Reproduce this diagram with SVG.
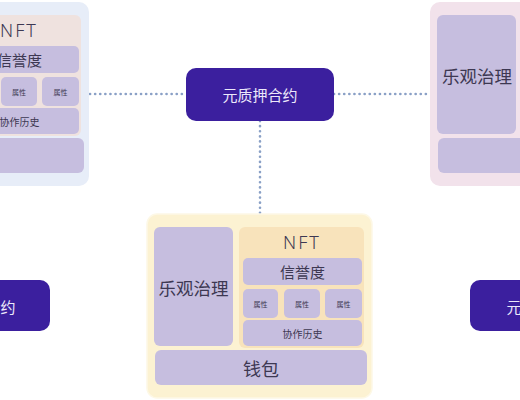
<svg xmlns="http://www.w3.org/2000/svg" width="520" height="400" viewBox="0 0 520 400">
<defs>
<style>
.cjk{font-family:"Noto Sans CJK SC","Noto Sans",sans-serif;fill:#3d3852;text-anchor:middle;dominant-baseline:central}
.nft{font-family:"Noto Sans","Noto Sans CJK SC",sans-serif;fill:#3d3852;text-anchor:middle;dominant-baseline:central;font-size:18px;letter-spacing:2px;font-weight:300}
.box{fill:#c6bedf}
.node{fill:#3b1f9e}
.nodetext{font-family:"Noto Sans CJK SC","Noto Sans",sans-serif;fill:#ece8fa;font-size:15px;text-anchor:middle;dominant-baseline:central}
.link{stroke:#8aa0c6;stroke-width:2.6;stroke-dasharray:0.1 5;stroke-linecap:round;fill:none}
</style>
</defs>
<rect width="520" height="400" fill="#ffffff"/>
<g id="connectors">
<line class="link" x1="90" y1="94" x2="186" y2="94"/>
<line class="link" x1="334" y1="94" x2="430" y2="94"/>
<line class="link" x1="260" y1="121" x2="260" y2="214"/>
</g>
<g id="card-left">
<rect x="-136" y="2" width="225" height="184" rx="10" fill="#e7edf8"/>
<rect x="-44" y="15" width="125" height="121" rx="6" fill="#efe2df"/>
<text class="nft" x="19" y="30">NFT</text>
<rect class="box" x="-40" y="46" width="119" height="27" rx="5"/>
<text class="cjk" x="19.5" y="59.5" font-size="15">信誉度</text>
<rect class="box" x="-40" y="77" width="35" height="29" rx="5"/>
<rect class="box" x="1" y="77" width="36" height="29" rx="5"/>
<rect class="box" x="42" y="77" width="37" height="29" rx="5"/>
<text class="cjk" x="19" y="91.5" font-size="7">属性</text>
<text class="cjk" x="60.5" y="91.5" font-size="7">属性</text>
<rect class="box" x="-40" y="108" width="119" height="26" rx="5"/>
<text class="cjk" x="19.5" y="121" font-size="10">协作历史</text>
<rect class="box" x="-128" y="138" width="212" height="35" rx="6"/>
</g>
<g id="card-right">
<rect x="430" y="2" width="225" height="184" rx="10" fill="#f2e2eb"/>
<rect class="box" x="437" y="15" width="79" height="119" rx="6"/>
<text class="cjk" x="477" y="75" font-size="17.5">乐观治理</text>
<rect class="box" x="438" y="138" width="212" height="35" rx="6"/>
</g>
<g id="card-center">
<rect x="147" y="214" width="225" height="184" rx="10" fill="#fcf2d2" stroke="#fdf8e6" stroke-width="1.5"/>
<rect class="box" x="154" y="227" width="79" height="119" rx="6"/>
<text class="cjk" x="193.5" y="287" font-size="17.5">乐观治理</text>
<rect x="239" y="227" width="125" height="121" rx="6" fill="#f8e3bb"/>
<text class="nft" x="302" y="242">NFT</text>
<rect class="box" x="243" y="258" width="119" height="27" rx="5"/>
<text class="cjk" x="302.5" y="271.5" font-size="15">信誉度</text>
<rect class="box" x="243" y="289" width="35" height="29" rx="5"/>
<rect class="box" x="284" y="289" width="36" height="29" rx="5"/>
<rect class="box" x="325" y="289" width="37" height="29" rx="5"/>
<text class="cjk" x="260.5" y="303.5" font-size="7">属性</text>
<text class="cjk" x="302" y="303.5" font-size="7">属性</text>
<text class="cjk" x="343.5" y="303.5" font-size="7">属性</text>
<rect class="box" x="243" y="320" width="119" height="26" rx="5"/>
<text class="cjk" x="302.5" y="333" font-size="10">协作历史</text>
<rect class="box" x="155" y="350" width="212" height="35" rx="6"/>
<text class="cjk" x="261" y="367.5" font-size="18">钱包</text>
</g>
<g id="node-top">
<rect class="node" x="186" y="68" width="148" height="53" rx="10"/>
<text class="nodetext" x="260" y="94.5">元质押合约</text>
</g>
<g id="node-left">
<rect class="node" x="-98" y="280" width="148" height="51" rx="10"/>
<text class="nodetext" x="-22" y="306">元质押合约</text>
</g>
<g id="node-right">
<rect class="node" x="470" y="280" width="148" height="51" rx="10"/>
<text class="nodetext" x="544" y="306">元质押合约</text>
</g>
</svg>
